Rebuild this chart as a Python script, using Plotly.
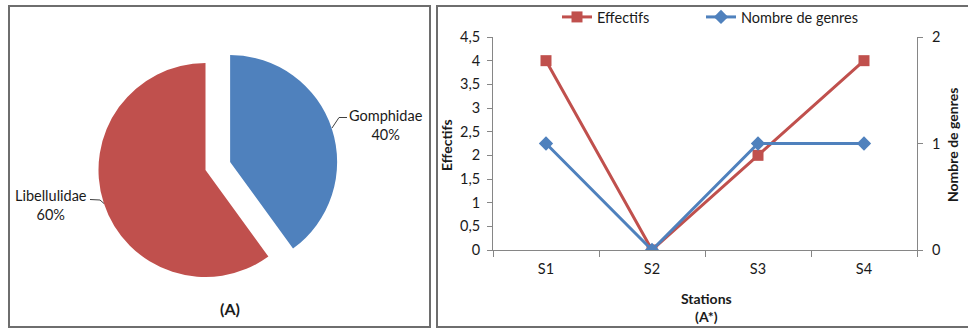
import plotly.graph_objects as go

# Family composition (pie)
families = ["Gomphidae", "Libellulidae"]
family_share = [40, 60]

# Station survey (line chart)
stations = ["S1", "S2", "S3", "S4"]
effectifs = [4, 0, 2, 4]
nombre_genres = [1, 0, 1, 1]

RED = "#C0504D"
BLUE = "#4F81BD"
AXIS = "#868686"
TXT = "#1a1a1a"
FONT = "Lato"
FS = 14.5

W, H = 968, 329


def px_x(x):
    return x / W


def px_y(y):
    return 1 - y / H


fig = go.Figure()

# --- pie: Gomphidae slice pulled out
fig.add_trace(go.Pie(
    labels=families,
    values=family_share,
    sort=False,
    direction="clockwise",
    rotation=0,
    pull=[0.242, 0],
    marker=dict(colors=[BLUE, RED], line=dict(width=0)),
    textinfo="none",
    hoverinfo="label+percent",
    showlegend=False,
    domain=dict(x=[px_x(72.6), px_x(338.4)], y=[px_y(302.9), px_y(37.1)]),
))

# --- line chart (each series gets its own legend box)
fig.add_trace(go.Scatter(
    x=stations, y=effectifs, name="Effectifs", mode="lines+markers",
    line=dict(color=RED, width=3),
    marker=dict(symbol="square", size=11, color=RED),
    yaxis="y", legend="legend",
))
fig.add_trace(go.Scatter(
    x=stations, y=nombre_genres, name="Nombre de genres", mode="lines+markers",
    line=dict(color=BLUE, width=3),
    marker=dict(symbol="diamond", size=11, color=BLUE),
    yaxis="y2", legend="legend2",
))

axis_common = dict(
    showgrid=False, zeroline=False, showline=True, linecolor=AXIS, linewidth=1,
    ticks="outside", tickcolor=AXIS, tickwidth=1, automargin=False,
    tickfont=dict(family=FONT, size=FS, color=TXT),
)

legend_common = dict(
    orientation="h", y=px_y(17), xanchor="left", yanchor="middle",
    font=dict(family=FONT, size=FS, color=TXT),
    bgcolor="rgba(0,0,0,0)", itemclick=False, itemdoubleclick=False,
)

fig.update_layout(
    width=W, height=H,
    margin=dict(l=0, r=0, t=0, b=0, pad=0, autoexpand=False),
    paper_bgcolor="white", plot_bgcolor="white",
    separators=", ",
    font=dict(family=FONT, size=FS, color=TXT),
    xaxis=dict(
        domain=[px_x(493), px_x(917)],
        type="category", range=[-0.5, 3.5], tickson="boundaries",
        ticklen=6, ticklabelstandoff=6,
        **axis_common,
    ),
    yaxis=dict(
        domain=[px_y(250), px_y(37)], range=[0, 4.5], dtick=0.5,
        ticklen=5, ticklabelstandoff=4,
        **axis_common,
    ),
    yaxis2=dict(
        domain=[px_y(250), px_y(37)], range=[0, 2], dtick=1,
        overlaying="y", side="right", anchor="x",
        ticklen=5, ticklabelstandoff=6,
        **axis_common,
    ),
    legend=dict(x=px_x(557), **legend_common),
    legend2=dict(x=px_x(701), **legend_common),
)

# panel frames
frame = dict(type="rect", xref="paper", yref="paper",
             line=dict(color="#6e6e6e", width=2), fillcolor="rgba(0,0,0,0)", layer="above")
fig.add_shape(x0=px_x(9), x1=px_x(430), y0=px_y(327), y1=px_y(6), **frame)
fig.add_shape(x0=px_x(437), x1=px_x(975), y0=px_y(327), y1=px_y(6), **frame)

# leader lines for the pie labels
leader = dict(type="path", xref="paper", yref="paper", line=dict(color="#404040", width=1))


def path(points):
    return "M " + " L ".join(f"{px_x(a)},{px_y(b)}" for a, b in points)


fig.add_shape(path=path([(332, 128), (339, 117.5), (347, 117.5)]), **leader)
fig.add_shape(path=path([(90, 199.5), (100, 200), (104, 203.5)]), **leader)

total = sum(family_share)
pie_labels = {
    "Gomphidae": (386, 125),
    "Libellulidae": (51, 205),
}
note = dict(xref="paper", yref="paper", showarrow=False, xanchor="center", yanchor="middle")
for name, share in zip(families, family_share):
    cx, cy = pie_labels[name]
    fig.add_annotation(
        x=px_x(cx), y=px_y(cy),
        text=f"{name}<br>{round(100 * share / total)}%",
        font=dict(family=FONT, size=FS, color=TXT), align="center", **note,
    )

fig.add_annotation(x=px_x(230), y=px_y(308), text="<b>(A)</b>",
                   font=dict(family=FONT, size=16, color=TXT), **note)

# axis titles
fig.add_annotation(x=px_x(706), y=px_y(307), text="<b>Stations</b><br><b>(A*)</b>", align="center",
                   font=dict(family=FONT, size=14, color=TXT), **note)
fig.add_annotation(x=px_x(447), y=px_y(145), text="<b>Effectifs</b>", textangle=-90,
                   font=dict(family=FONT, size=14, color=TXT), **note)
fig.add_annotation(x=px_x(953), y=px_y(145), text="<b>Nombre de genres</b>", textangle=-90,
                   font=dict(family=FONT, size=14, color=TXT), **note)

fig.write_html("out.html")
